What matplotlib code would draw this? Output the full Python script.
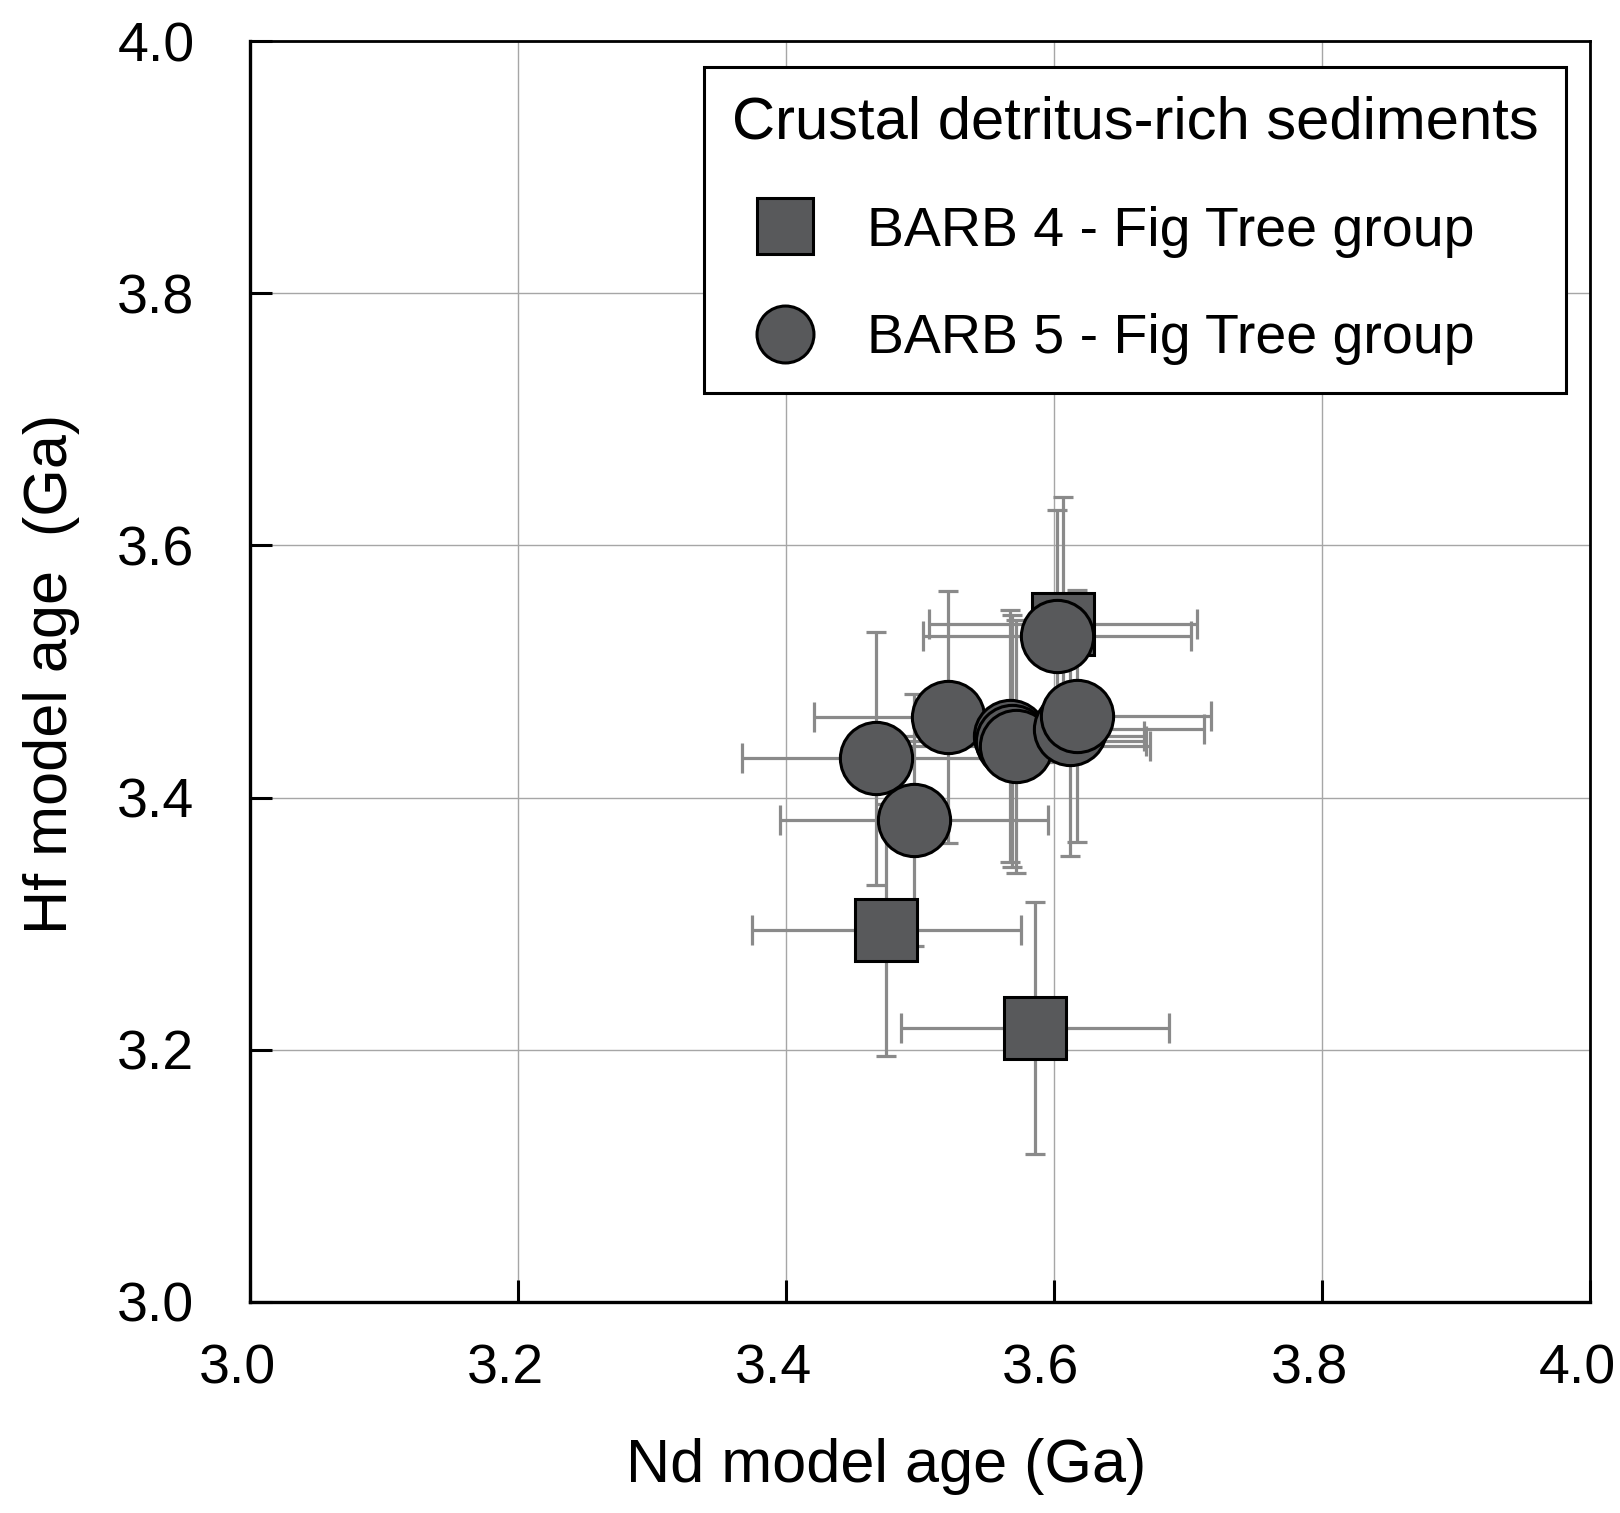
import matplotlib
matplotlib.use("Agg")
import matplotlib.pyplot as plt
from matplotlib.lines import Line2D
from matplotlib.transforms import ScaledTranslation

plt.rcParams['font.family'] = ['Liberation Sans', 'DejaVu Sans']

# BARB 4 - Fig Tree group (squares)
b4_nd = [3.607, 3.475, 3.586]
b4_hf = [3.538, 3.295, 3.217]
b4_nd_err = [0.10, 0.10, 0.10]
b4_hf_err = [0.10, 0.10, 0.10]

# BARB 5 - Fig Tree group (circles)
b5_nd = [3.467, 3.521, 3.567, 3.569, 3.5715, 3.612, 3.617, 3.4955, 3.6025]
b5_hf = [3.431, 3.464, 3.449, 3.445, 3.4405, 3.454, 3.465, 3.382, 3.528]
b5_nd_err = [0.10, 0.10, 0.10, 0.10, 0.10, 0.10, 0.10, 0.10, 0.10]
b5_hf_err = [0.10, 0.10, 0.10, 0.10, 0.10, 0.10, 0.10, 0.10, 0.10]

ticks = [3.0, 3.2, 3.4, 3.6, 3.8, 4.0]
tick_labels = ['3.0', '3.2', '3.4', '3.6', '3.8', '4.0']

FACE = '#58595b'
ERRC = '#8a8a8a'

fig = plt.figure(figsize=(16.2, 15.13), dpi=100)
ax = fig.add_axes([0.1543, 0.1395, 0.8272, 0.8334])

# error bars first, all behind the markers
for xs, ys, xe, ye in [(b4_nd, b4_hf, b4_nd_err, b4_hf_err), (b5_nd, b5_hf, b5_nd_err, b5_hf_err)]:
    ax.errorbar(xs, ys, xerr=xe, fmt='none', ecolor=ERRC, elinewidth=2.3,
                capsize=11, capthick=2.3, zorder=2)
    ax.errorbar(xs, ys, yerr=ye, fmt='none', ecolor=ERRC, elinewidth=2.3,
                capsize=7.5, capthick=2.3, zorder=2)

ax.plot(b4_nd, b4_hf, 's', ms=44, mfc=FACE, mec='black', mew=2.2, zorder=3)
for x, y in zip(b5_nd, b5_hf):
    ax.plot(x, y, 'o', ms=52, mfc=FACE, mec='black', mew=2.2, zorder=4)

ax.set_xlim(3.0, 4.0)
ax.set_ylim(3.0, 4.0)
ax.set_xticks(ticks)
ax.set_xticklabels(tick_labels)
ax.set_yticks(ticks)
ax.set_yticklabels(tick_labels)
ax.tick_params(direction='in', length=16, width=2.2, labelsize=40, top=False, right=False)
ax.tick_params(axis='x', pad=30)
ax.tick_params(axis='y', pad=40)
ax.grid(True, color='#a6a6a6', linewidth=1.0, zorder=0)
ax.set_axisbelow(True)
for side in ['left', 'bottom']:
    ax.spines[side].set_linewidth(2.4)
for side in ['top', 'right']:
    ax.spines[side].set_linewidth(2.0)

# x tick labels sit a little left of their ticks in the original
shift = ScaledTranslation(-0.13, 0, fig.dpi_scale_trans)
for lab in ax.get_xticklabels():
    lab.set_transform(lab.get_transform() + shift)

ax.set_xlabel('Nd model age (Ga)', fontsize=44)
ax.set_ylabel('Hf model age  (Ga)', fontsize=44)
ax.xaxis.set_label_coords(0.4746, -0.108)
ax.yaxis.set_label_coords(-0.127, 0.498)

handles = [Line2D([], [], ls='none', marker='s', ms=40, mfc=FACE, mec='black', mew=2.2),
           Line2D([], [], ls='none', marker='o', ms=41, mfc=FACE, mec='black', mew=2.2)]
leg = ax.legend(handles, ['BARB 4 - Fig Tree group', 'BARB 5 - Fig Tree group'],
                title='Crustal detritus-rich sediments', title_fontsize=43, fontsize=40,
                loc='upper right', bbox_to_anchor=(0.982, 0.979), borderaxespad=0,
                fancybox=False, edgecolor='black', framealpha=1, alignment='left',
                borderpad=0.5, handlelength=1.91, handletextpad=0.53, labelspacing=1.0)
leg.get_frame().set_linewidth(2.2)

fig.savefig('out.png', dpi=100)
